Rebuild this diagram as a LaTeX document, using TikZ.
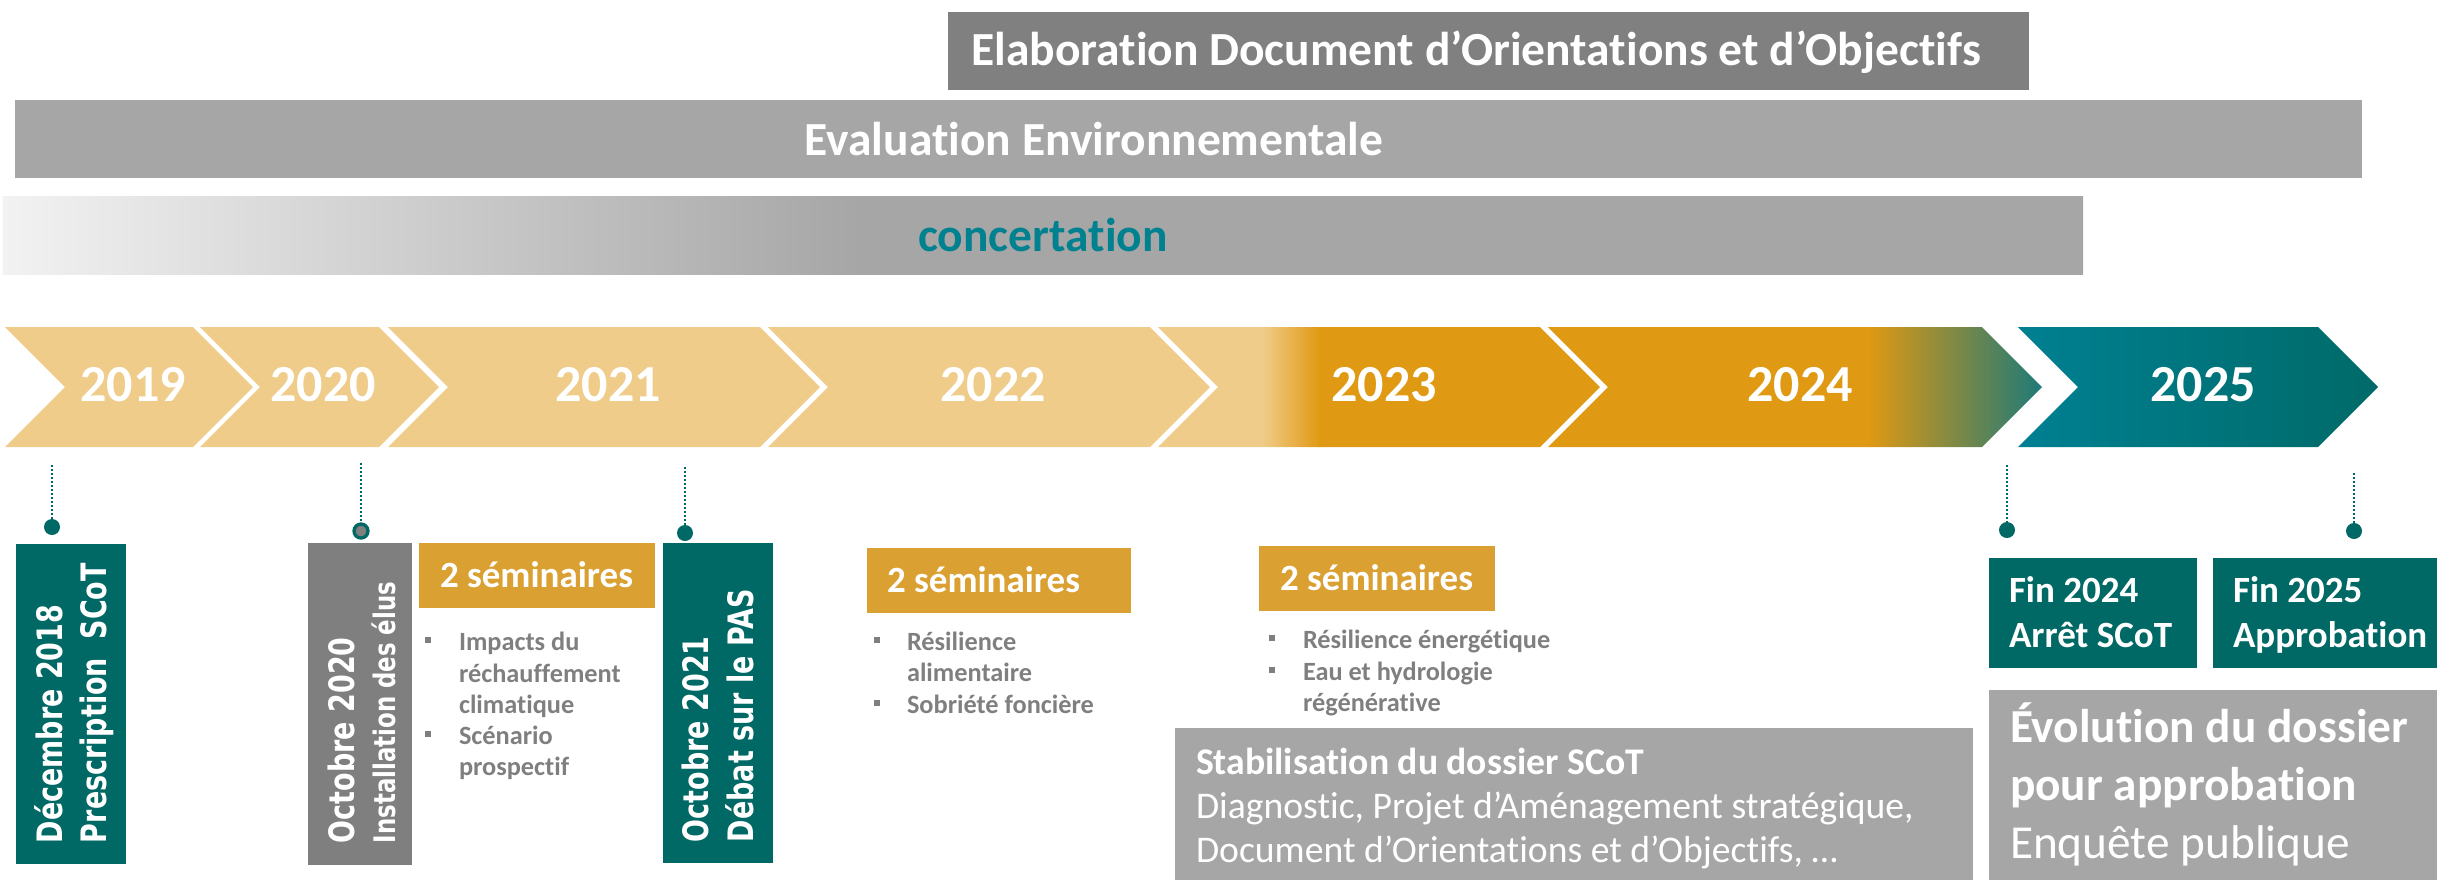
\documentclass[tikz,border=0pt]{standalone}
\usepackage{fontspec}
\setmainfont{Carlito}[Ligatures=CommonOff]
\newfontfamily\vfont[FakeStretch=0.77]{DejaVu Sans}
\definecolor{light}{HTML}{F0CC8A}
\definecolor{dorange}{HTML}{E09912}
\definecolor{tealend}{HTML}{1E7A78}
\definecolor{tealA}{HTML}{008092}
\definecolor{tealB}{HTML}{006A68}
\definecolor{boxteal}{HTML}{006965}
\definecolor{semi}{HTML}{DAA032}
\definecolor{g80}{HTML}{808080}
\definecolor{gA6}{HTML}{A6A6A6}
\definecolor{gtxt}{HTML}{7F7F7F}
\definecolor{conctxt}{HTML}{00818F}
\definecolor{gF2}{HTML}{F2F2F2}
\pgfdeclarehorizontalshading{concsh}{100bp}{color(0bp)=(gF2); color(25bp)=(gF2); color(45.6bp)=(gA6); color(100bp)=(gA6)}
\begin{document}
\begin{tikzpicture}[x=0.3pt,y=-0.3pt,
  every node/.style={inner sep=0pt,outer sep=0pt},
  bartitle/.style={font=\bfseries\fontsize{14.25}{17}\selectfont,text=white,anchor=base},
  yearlbl/.style={font=\bfseries\fontsize{15.6}{18}\selectfont,text=white,anchor=base},
  vtext/.style={font=\vfont\bfseries\fontsize{10.5}{12}\selectfont,text=white,rotate=90,anchor=base west},
  vsmall/.style={font=\vfont\bfseries\fontsize{8.9}{11}\selectfont,text=white,rotate=90,anchor=base west},
  semtitle/.style={font=\bfseries\fontsize{11.1}{13}\selectfont,text=white,anchor=base west},
  bultxt/.style={font=\bfseries\fontsize{7.9}{9.5}\selectfont,text=gtxt,anchor=base west},
  bsq/.style={rectangle,fill=gtxt,minimum size=1.8pt},
  boxtxt/.style={font=\bfseries\fontsize{11.1}{13}\selectfont,text=white,anchor=base west},
  stabb/.style={font=\bfseries\fontsize{11.3}{13}\selectfont,text=white,anchor=base west},
  stabr/.style={font=\fontsize{11.3}{13}\selectfont,text=white,anchor=base west},
  evob/.style={font=\bfseries\fontsize{14.2}{17}\selectfont,text=white,anchor=base west},
  evor/.style={font=\fontsize{14.2}{17}\selectfont,text=white,anchor=base west},
  dotline/.style={draw=boxteal,line width=0.75pt,dash pattern=on 0.6pt off 0.6pt},
  mdot/.style={circle,fill=boxteal,minimum size=4.8pt}]
\useasboundingbox (0,0) rectangle (2437,880);

% top bars
\fill[g80] (948,12) rectangle (2029,90);
\fill[gA6] (15,100) rectangle (2362,178);
\shade[shading=concsh] (3,196) rectangle (2083,274);
\node[bartitle] (elab) at (1476,65) {Elaboration Document d’Orientations et d’Objectifs};
\node[bartitle] (eval) at (1094,155) {Evaluation Environnementale};
\node[bartitle,text=conctxt] (conc) at (1043,251) {concertation};

% chevrons
\foreach \L/\R in {5/193,200/379,388/760,768/1150}
  \fill[light] (\L,327) -- (\R,327) -- ({\R+60},387) -- (\R,447) -- (\L,447) -- ({\L+60},387) -- cycle;
\begin{scope}
  \clip (1158,327) -- (1540,327) -- (1600,387) -- (1540,447) -- (1158,447) -- (1218,387) -- cycle;
  \fill[light] (1150,320) rectangle (1263,455);
  \shade[left color=light,right color=dorange] (1262,320) rectangle (1320,455);
  \fill[dorange] (1319,320) rectangle (1610,455);
\end{scope}
\begin{scope}
  \clip (1548,327) -- (1982,327) -- (2042,387) -- (1982,447) -- (1548,447) -- (1608,387) -- cycle;
  \fill[dorange] (1540,320) rectangle (1868,455);
  \shade[left color=dorange,right color=tealend] (1867,320) rectangle (2042,455);
\end{scope}
\shade[left color=tealA,right color=tealB] (2018,327) -- (2318,327) -- (2378,387) -- (2318,447) -- (2018,447) -- (2078,387) -- cycle;

\node[yearlbl] (y2019) at (133,401) {2019};
\node[yearlbl] (y2020) at (323,401) {2020};
\node[yearlbl] (y2021) at (608,401) {2021};
\node[yearlbl] (y2022) at (993,401) {2022};
\node[yearlbl] (y2023) at (1384,401) {2023};
\node[yearlbl] (y2024) at (1800,401) {2024};
\node[yearlbl] (y2025) at (2203,401) {2025};

% dotted markers
\node[mdot] (d1) at (52,527) {};
\node[mdot,fill=gtxt,draw=boxteal,line width=1pt,minimum size=4.2pt] (d2) at (361,531) {};
\node[mdot] (d3) at (685,533) {};
\node[mdot] (d4) at (2007,530) {};
\node[mdot] (d5) at (2354,531) {};
\coordinate (t1) at (52,465);
\coordinate (t2) at (361,463);
\coordinate (t3) at (685,467);
\coordinate (t4) at (2007,465);
\coordinate (t5) at (2354,473);
\foreach \i in {1,...,5} \draw[dotline] (t\i) -- (d\i);

% vertical milestone boxes
\fill[boxteal] (16,544) rectangle (126,864);
\node[vtext] (a1) at (62,843) {Décembre 2018};
\node[vtext] (a2) at (106,843) {Prescription\ \ SCoT};
\fill[gtxt] (308,543) rectangle (412,865);
\node[vtext] (b1) at (354,843) {Octobre 2020};
\node[vsmall] (b2) at (395,843) {Installation des élus};
\fill[boxteal] (663,543) rectangle (773,863);
\node[vtext] (c1) at (708,842) {Octobre 2021};
\node[vtext] (c2) at (753,842) {Débat sur le PAS};

% seminars
\fill[semi] (419,543) rectangle (655,608);
\node[semtitle] (s1) at (440,587) {2 séminaires};
\node[bsq] (q11) at (428,640) {};
\node[bultxt] (s1a) at (459,650) {Impacts du};
\node[bultxt] (s1b) at (459,682) {réchauffement};
\node[bultxt] (s1c) at (459,713) {climatique};
\node[bsq] (q12) at (428,734) {};
\node[bultxt] (s1d) at (459,744) {Scénario};
\node[bultxt] (s1e) at (459,775) {prospectif};

\fill[semi] (867,548) rectangle (1131,613);
\node[semtitle] (s2) at (887,592) {2 séminaires};
\node[bsq] (q21) at (877,640) {};
\node[bultxt] (s2a) at (907,650) {Résilience};
\node[bultxt] (s2b) at (907,681) {alimentaire};
\node[bsq] (q22) at (877,703) {};
\node[bultxt] (s2c) at (907,713) {Sobriété foncière};

\fill[semi] (1259,546) rectangle (1495,611);
\node[semtitle] (s3) at (1280,590) {2 séminaires};
\node[bsq] (q31) at (1272,638) {};
\node[bultxt] (s3a) at (1303,648) {Résilience énergétique};
\node[bsq] (q32) at (1272,670) {};
\node[bultxt] (s3b) at (1303,680) {Eau et hydrologie};
\node[bultxt] (s3c) at (1303,711) {régénérative};

% stabilisation
\fill[gA6] (1175,728) rectangle (1973,880);
\node[stabb] (st1) at (1196,774) {Stabilisation du dossier SCoT};
\node[stabr] (st2) at (1196,818) {Diagnostic, Projet d’Aménagement stratégique,};
\node[stabr] (st3) at (1196,862) {Document d’Orientations et d’Objectifs, …};

% end boxes
\fill[boxteal] (1989,558) rectangle (2197,668);
\node[boxtxt] (f1) at (2009,602) {Fin 2024};
\node[boxtxt] (f2) at (2009,647) {Arrêt SCoT};
\fill[boxteal] (2213,558) rectangle (2437,668);
\node[boxtxt] (g1) at (2233,602) {Fin 2025};
\node[boxtxt] (g2) at (2233,647) {Approbation};
\fill[gA6] (1989,690) rectangle (2437,880);
\node[evob] (e1) at (2010,742) {Évolution du dossier};
\node[evob] (e2) at (2010,800) {pour approbation};
\node[evor] (e3) at (2010,858) {Enquête publique};
\end{tikzpicture}
\end{document}
